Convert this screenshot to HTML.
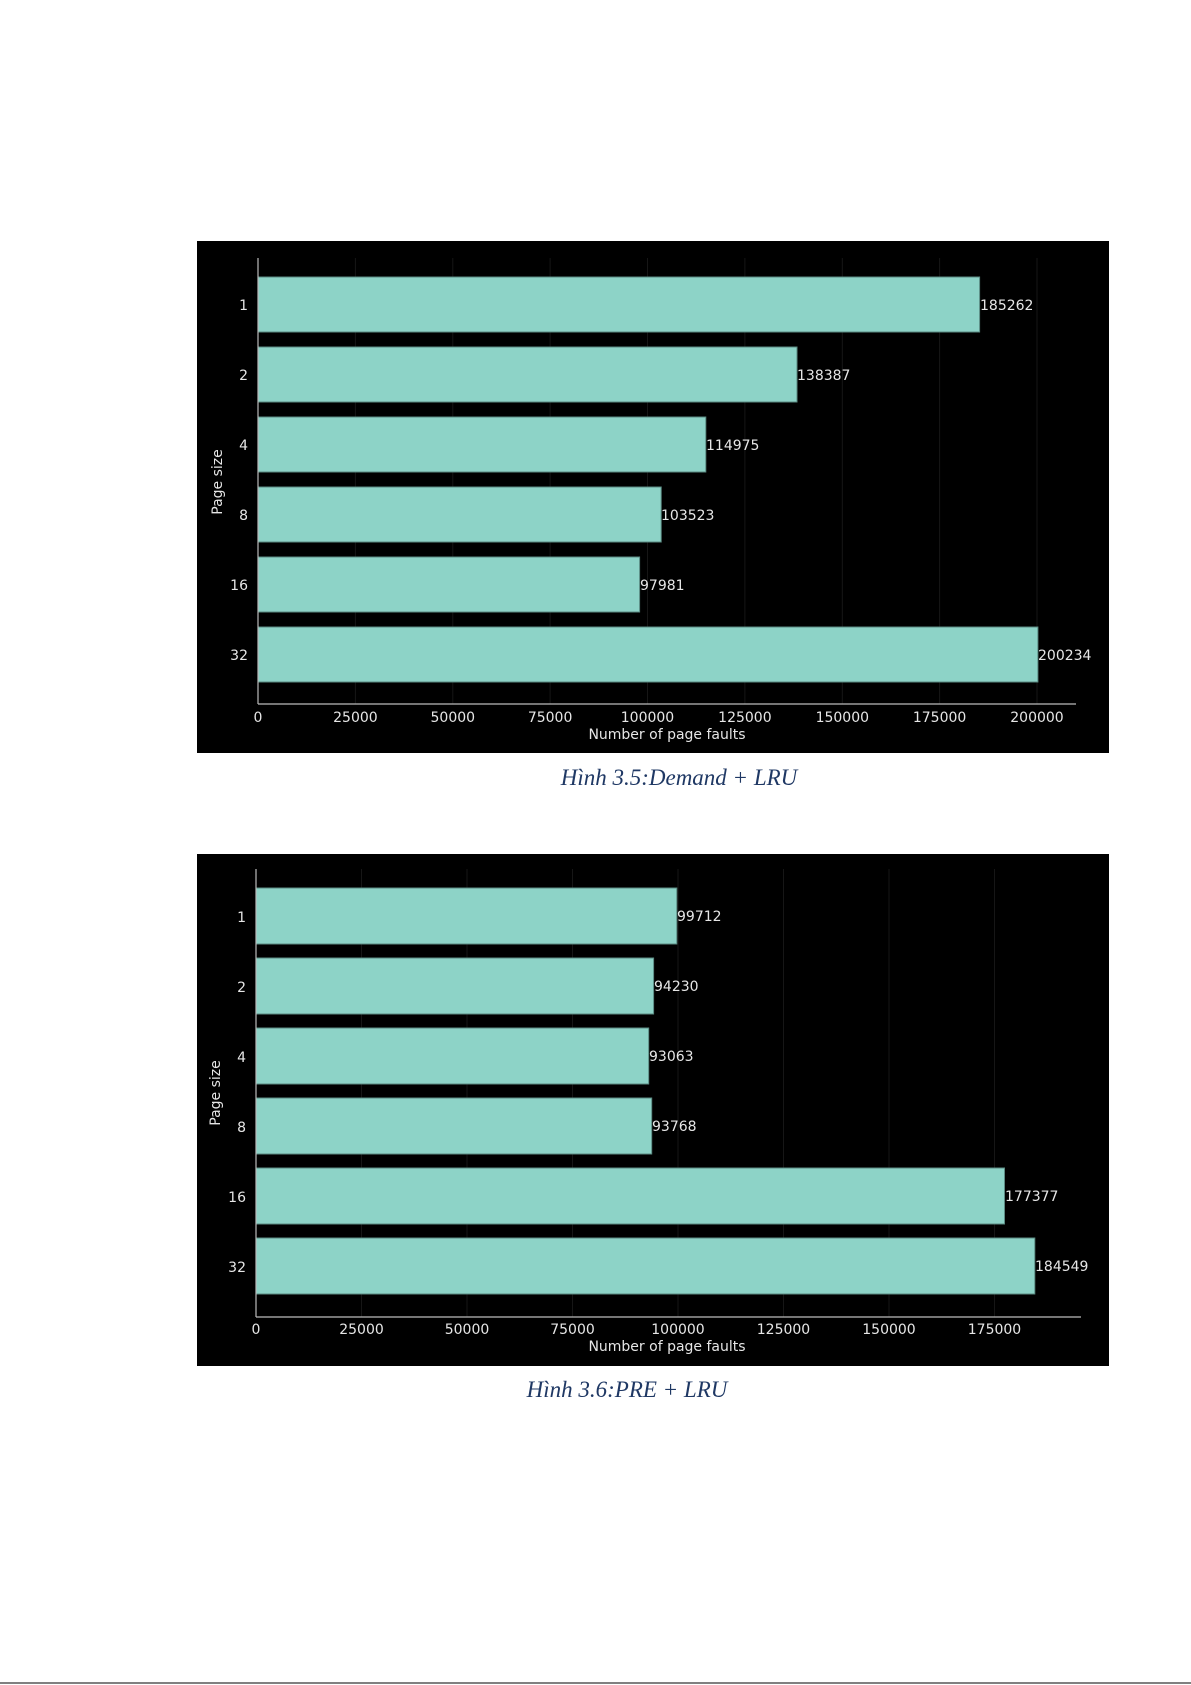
<!DOCTYPE html>
<html><head><meta charset="utf-8"><style>
body{margin:0;background:#fff}
svg{display:block}
.t{font-family:"DejaVu Sans","Liberation Sans",sans-serif;fill:#e6e6e6;font-size:14px}
.c{font-family:"Liberation Serif",serif;font-style:italic;fill:#1f3864;font-size:23px}
</style></head><body>
<svg width="1191" height="1685" viewBox="0 0 1191 1685" xmlns="http://www.w3.org/2000/svg">
<rect x="197" y="241" width="912" height="512" fill="#000"/>
<g stroke="#161616" stroke-width="1">
<line x1="355.4" y1="258" x2="355.4" y2="704"/><line x1="452.8" y1="258" x2="452.8" y2="704"/><line x1="550.1" y1="258" x2="550.1" y2="704"/><line x1="647.5" y1="258" x2="647.5" y2="704"/><line x1="744.9" y1="258" x2="744.9" y2="704"/><line x1="842.3" y1="258" x2="842.3" y2="704"/><line x1="939.6" y1="258" x2="939.6" y2="704"/><line x1="1037" y1="258" x2="1037" y2="704"/>
</g>
<g fill="#8dd3c7" stroke="#5a8a82" stroke-width="1">
<rect x="258" y="277" width="721.6" height="55"/>
<rect x="258" y="347" width="539" height="55"/>
<rect x="258" y="417" width="447.8" height="55"/>
<rect x="258" y="487" width="403.2" height="55"/>
<rect x="258" y="557" width="381.6" height="55"/>
<rect x="258" y="627" width="779.9" height="55"/>
</g>
<line x1="258" y1="258" x2="258" y2="704" stroke="#bbb" stroke-width="1.2"/>
<line x1="258" y1="704" x2="1076" y2="704" stroke="#bbb" stroke-width="1.2"/>
<g class="t">
<text x="980" y="310">185262</text><text x="797" y="380">138387</text><text x="706" y="450">114975</text><text x="661" y="520">103523</text><text x="640" y="590">97981</text><text x="1038" y="660">200234</text>
</g>
<g class="t" text-anchor="end">
<text x="248" y="310">1</text><text x="248" y="380">2</text><text x="248" y="450">4</text><text x="248" y="520">8</text><text x="248" y="590">16</text><text x="248" y="660">32</text>
</g>
<g class="t" text-anchor="middle">
<text x="258" y="722">0</text><text x="355.4" y="722">25000</text><text x="452.8" y="722">50000</text><text x="550.1" y="722">75000</text><text x="647.5" y="722">100000</text><text x="744.9" y="722">125000</text><text x="842.3" y="722">150000</text><text x="939.6" y="722">175000</text><text x="1037" y="722">200000</text>
<text x="667" y="739">Number of page faults</text>
<text transform="translate(222,482) rotate(-90)">Page size</text>
</g>
<text class="c" x="679" y="785" text-anchor="middle">Hình 3.5:Demand + LRU</text>

<rect x="197" y="854" width="912" height="512" fill="#000"/>
<g stroke="#161616" stroke-width="1">
<line x1="361.5" y1="869" x2="361.5" y2="1317"/><line x1="467" y1="869" x2="467" y2="1317"/><line x1="572.5" y1="869" x2="572.5" y2="1317"/><line x1="678" y1="869" x2="678" y2="1317"/><line x1="783.5" y1="869" x2="783.5" y2="1317"/><line x1="889" y1="869" x2="889" y2="1317"/><line x1="994.5" y1="869" x2="994.5" y2="1317"/>
</g>
<g fill="#8dd3c7" stroke="#5a8a82" stroke-width="1">
<rect x="256" y="888" width="420.8" height="56"/>
<rect x="256" y="958" width="397.6" height="56"/>
<rect x="256" y="1028" width="392.7" height="56"/>
<rect x="256" y="1098" width="395.7" height="56"/>
<rect x="256" y="1168" width="748.5" height="56"/>
<rect x="256" y="1238" width="778.8" height="56"/>
</g>
<line x1="256" y1="869" x2="256" y2="1317" stroke="#bbb" stroke-width="1.2"/>
<line x1="256" y1="1317" x2="1081" y2="1317" stroke="#bbb" stroke-width="1.2"/>
<g class="t">
<text x="677" y="921">99712</text><text x="654" y="991">94230</text><text x="649" y="1061">93063</text><text x="652" y="1131">93768</text><text x="1005" y="1201">177377</text><text x="1035" y="1271">184549</text>
</g>
<g class="t" text-anchor="end">
<text x="246" y="922">1</text><text x="246" y="992">2</text><text x="246" y="1062">4</text><text x="246" y="1132">8</text><text x="246" y="1202">16</text><text x="246" y="1272">32</text>
</g>
<g class="t" text-anchor="middle">
<text x="256" y="1334">0</text><text x="361.5" y="1334">25000</text><text x="467" y="1334">50000</text><text x="572.5" y="1334">75000</text><text x="678" y="1334">100000</text><text x="783.5" y="1334">125000</text><text x="889" y="1334">150000</text><text x="994.5" y="1334">175000</text>
<text x="667" y="1351">Number of page faults</text>
<text transform="translate(220,1093) rotate(-90)">Page size</text>
</g>
<text class="c" x="627" y="1397" text-anchor="middle">Hình 3.6:PRE + LRU</text>
<line x1="0" y1="1683" x2="1191" y2="1683" stroke="#000" stroke-width="1"/>
</svg>
</body></html>
